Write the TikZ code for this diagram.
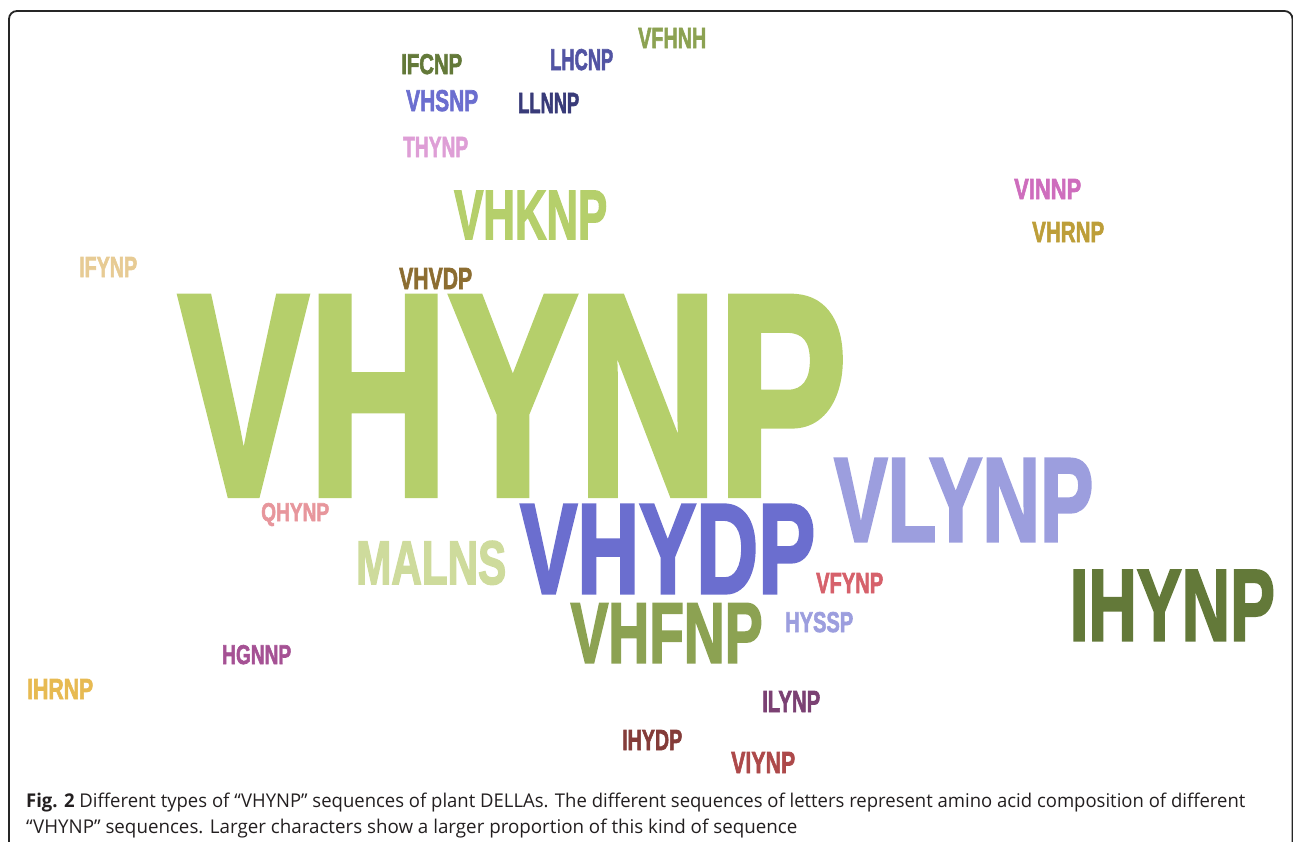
\documentclass[tikz,border=0pt]{standalone}
\usepackage{graphicx}
\usepackage{fontspec}
\setmainfont{Open Sans}
\newfontfamily\cloudfont{Liberation Sans}[BoldFeatures={FakeBold=2.5}]
\usepackage{xcolor}
% d3 palette of the cloud
\definecolor{cgreenA}{HTML}{B5CF6B}
\definecolor{cgreenB}{HTML}{8CA252}
\definecolor{cgreenC}{HTML}{637939}
\definecolor{cgreenD}{HTML}{CEDB9C}
\definecolor{cblueA}{HTML}{6B6ECF}
\definecolor{cblueB}{HTML}{9C9EDE}
\definecolor{cblueC}{HTML}{5254A3}
\definecolor{cblueD}{HTML}{393B79}
\definecolor{cbrownA}{HTML}{8C6D31}
\definecolor{cbrownB}{HTML}{BD9E39}
\definecolor{cbrownC}{HTML}{E7BA52}
\definecolor{cbrownD}{HTML}{E7CB94}
\definecolor{credA}{HTML}{843C39}
\definecolor{credB}{HTML}{AD494A}
\definecolor{credC}{HTML}{D6616B}
\definecolor{credD}{HTML}{E7969C}
\definecolor{cpinkA}{HTML}{7B4173}
\definecolor{cpinkB}{HTML}{A55194}
\definecolor{cpinkC}{HTML}{CE6DBD}
\definecolor{cpinkD}{HTML}{DE9ED6}
\definecolor{captiontext}{HTML}{231F20}
\newcommand{\fitword}[3]{\resizebox{#1pt}{#2pt}{#3}}

\begin{document}
\begin{tikzpicture}[x=1pt,y=-1pt,
  word/.style={anchor=base west,inner sep=0pt,font=\cloudfont\bfseries},
  captext/.style={anchor=base west,inner sep=0pt,text=captiontext}]
\useasboundingbox (0,0) rectangle (1293,841);
% Frame
\draw[line width=1.8pt,rounded corners=8pt,black!85] (9,850) -- (9,11) -- (1292.5,11) -- (1292.5,850);
% Large words
\node[word,cgreenA] (vhynp) at (178.6,494.4) {\fitword{668}{197}{VHYNP}};
\node[word,cblueB] (vlynp) at (834,541) {\fitword{259}{82}{VLYNP}};
\node[word,cgreenC] (ihynp) at (1069.6,640.4) {\fitword{205}{70}{IHYNP}};
\node[word,cblueA] (vhydp) at (520,593) {\fitword{295}{88}{VHYDP}};
\node[word,cgreenB] (vhfnp) at (570.4,662.6) {\fitword{192}{59}{VHFNP}};
\node[word,cgreenD] (malns) at (356,584) {\fitword{150}{43}{MALNS}};
\node[word,cgreenA] (vhknp) at (454,239) {\fitword{153}{48}{VHKNP}};
% Small words
\node[word,credD] (qhynp) at (261,521) {\fitword{68}{18}{QHYNP}};
\node[word,cbrownA] (vhvdp) at (399,289) {\fitword{73}{21}{VHVDP}};
\node[word,cbrownD] (ifynp) at (79,277) {\fitword{58}{20}{IFYNP}};
\node[word,credC] (vfynp) at (816,593) {\fitword{67}{20}{VFYNP}};
\node[word,cblueB] (hyssp) at (785,632) {\fitword{68}{20}{HYSSP}};
\node[word,cpinkA] (ilynp) at (762,712) {\fitword{58}{21}{ILYNP}};
\node[word,credA] (ihydp) at (622,750) {\fitword{60}{20}{IHYDP}};
\node[word,credB] (viynp) at (731,773) {\fitword{64}{21}{VIYNP}};
\node[word,cbrownC] (ihrnp) at (27,699) {\fitword{66}{20}{IHRNP}};
\node[word,cpinkB] (hgnnp) at (222,664) {\fitword{69}{19}{HGNNP}};
\node[word,cpinkC] (vinnp) at (1014,199) {\fitword{67}{20}{VINNP}};
\node[word,cbrownB] (vhrnp) at (1032,242) {\fitword{72}{20}{VHRNP}};
% Top group
\node[word,cgreenB] (vfhnh) at (638,48) {\fitword{68}{20}{VFHNH}};
\node[word,cgreenC] (ifcnp) at (401,74) {\fitword{61}{20}{IFCNP}};
\node[word,cblueC] (lhcnp) at (550,70) {\fitword{63}{21}{LHCNP}};
\node[word,cblueA] (vhsnp) at (406,111) {\fitword{72}{21}{VHSNP}};
\node[word,cblueD] (llnnp) at (518,113) {\fitword{61}{20}{LLNNP}};
\node[word,cpinkD] (thynp) at (403,157) {\fitword{65}{20}{THYNP}};
% Caption
\node[captext] (capone) at (26,807) {\resizebox{1219pt}{14.5pt}{\textbf{Fig. 2} Different types of “VHYNP” sequences of plant DELLAs. The different sequences of letters represent amino acid composition of different}};
\node[captext] (captwo) at (26,833) {\resizebox{771pt}{14.5pt}{“VHYNP” sequences. Larger characters show a larger proportion of this kind of sequence}};
\end{tikzpicture}
\end{document}
